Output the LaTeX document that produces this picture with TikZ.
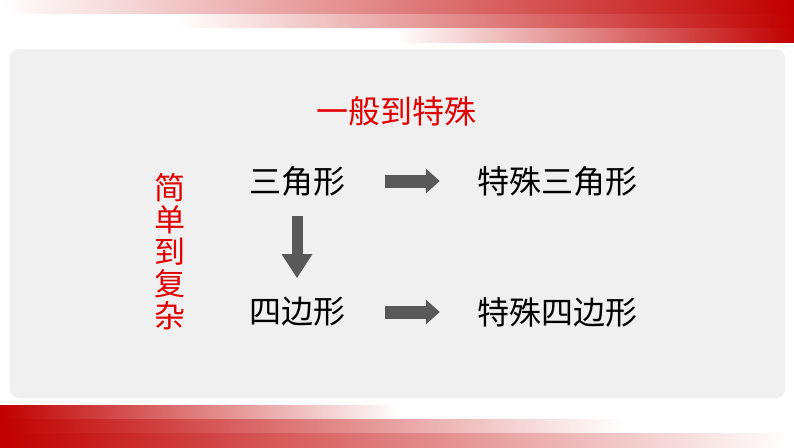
\documentclass[tikz,border=0pt]{standalone}
\usepackage{xcolor}
\usepackage{fontspec}
\usepackage{tikz}
\usetikzlibrary{arrows.meta}
\newfontfamily\cjk{Noto Sans CJK SC}
\definecolor{barred}{HTML}{C00000}
\definecolor{textred}{HTML}{E00000}
\definecolor{boxgrey}{HTML}{F0F0F0}
\definecolor{arrowgrey}{HTML}{595959}
\tikzset{
  word/.style={inner sep=0pt, font=\cjk\fontsize{32}{32}\selectfont},
  rightarrow/.style={draw=arrowgrey, line width=13pt, -{Triangle[length=14pt,width=24pt]}},
  downarrow/.style={draw=arrowgrey, line width=11pt, -{Triangle[length=24pt,width=29pt]}}
}

\begin{document}
\begin{tikzpicture}[x=1pt,y=-1pt]
\useasboundingbox (0,0) rectangle (794,447);
\fill[white] (0,0) rectangle (794,447);

% bars at the top
\shade[left color=white, middle color=barred!70!white, right color=barred] (0,0) rectangle (794,13.5);
\shade[left color=white, middle color=barred!70!white, right color=barred] (175,14.5) rectangle (794,27.5);
\shade[left color=white, middle color=barred!70!white, right color=barred] (395,28.5) rectangle (794,42);

% bars at the bottom
\shade[left color=barred, middle color=barred!70!white, right color=white] (0,405) rectangle (400,418.5);
\shade[left color=barred, middle color=barred!70!white, right color=white] (0,419.5) rectangle (623,432.5);
\shade[left color=barred, middle color=barred!70!white, right color=white] (0,433.5) rectangle (790,447);

% grey panel
\fill[boxgrey, rounded corners=9pt] (10,49) rectangle (785,398);

\node[word, text=textred] (general) at (396,111) {一般到特殊};
\node[word, text=textred, align=center, font=\cjk\fontsize{31}{32}\selectfont] (simple) at (170,252) {简\\单\\到\\复\\杂};

\node[word] (tri) at (297,181) {三角形};
\node[word] (stri) at (557,181) {特殊三角形};
\node[word] (quad) at (297,312) {四边形};
\node[word] (squad) at (557,312) {特殊四边形};

\draw[rightarrow, shorten <=40pt, shorten >=37pt] (tri) -- (stri);
\draw[rightarrow, shorten <=40pt, shorten >=37pt] (quad) -- (squad);
\draw[downarrow, shorten <=20pt, shorten >=19pt] (tri) -- (quad);
\end{tikzpicture}
\end{document}
